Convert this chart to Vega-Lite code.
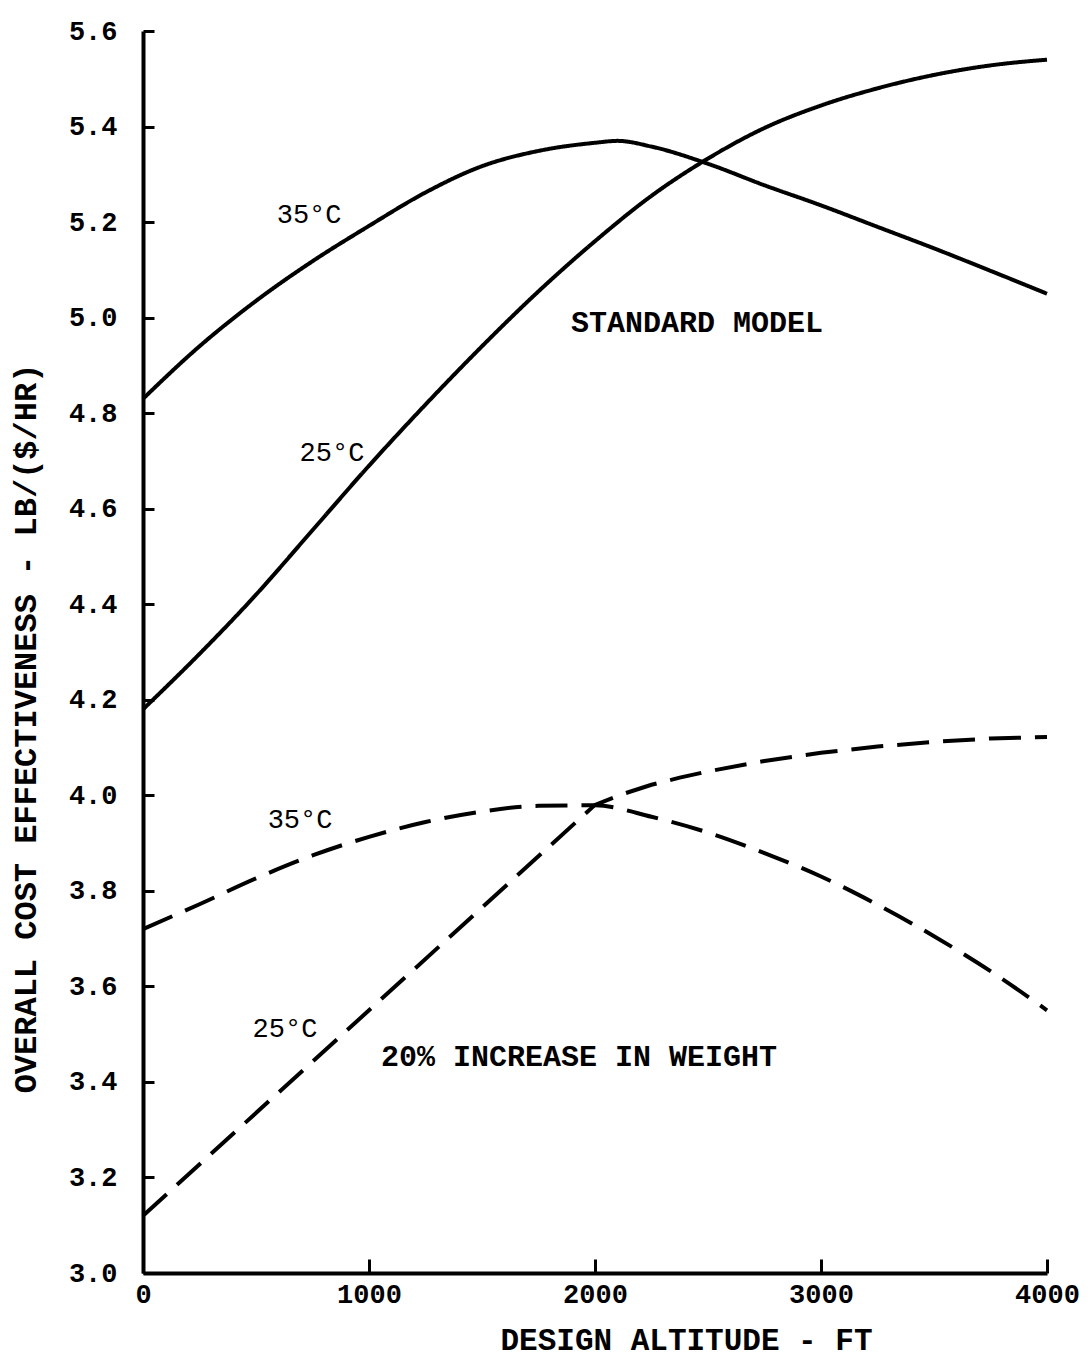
{
  "$schema": "https://vega.github.io/schema/vega-lite/v6.json",
  "autosize": {"type": "none"},
  "width": 904,
  "height": 1242,
  "padding": {"left": 143, "top": 31, "right": 45, "bottom": 85},
  "background": "white",
  "config": {"view": {"stroke": null}},
  "datasets": {
    "curves": [
      {"series": "std35", "model": "standard", "alt": 0, "val": 4.83},
      {"series": "std35", "model": "standard", "alt": 250, "val": 4.94},
      {"series": "std35", "model": "standard", "alt": 500, "val": 5.035},
      {"series": "std35", "model": "standard", "alt": 750, "val": 5.118},
      {"series": "std35", "model": "standard", "alt": 1000, "val": 5.192},
      {"series": "std35", "model": "standard", "alt": 1250, "val": 5.262},
      {"series": "std35", "model": "standard", "alt": 1500, "val": 5.317},
      {"series": "std35", "model": "standard", "alt": 1750, "val": 5.349},
      {"series": "std35", "model": "standard", "alt": 2000, "val": 5.366},
      {"series": "std35", "model": "standard", "alt": 2100, "val": 5.37},
      {"series": "std35", "model": "standard", "alt": 2250, "val": 5.358},
      {"series": "std35", "model": "standard", "alt": 2500, "val": 5.322},
      {"series": "std35", "model": "standard", "alt": 2750, "val": 5.277},
      {"series": "std35", "model": "standard", "alt": 3000, "val": 5.235},
      {"series": "std35", "model": "standard", "alt": 3250, "val": 5.19},
      {"series": "std35", "model": "standard", "alt": 3500, "val": 5.145},
      {"series": "std35", "model": "standard", "alt": 3750, "val": 5.098},
      {"series": "std35", "model": "standard", "alt": 4000, "val": 5.05},
      {"series": "std25", "model": "standard", "alt": 0, "val": 4.18},
      {"series": "std25", "model": "standard", "alt": 250, "val": 4.296},
      {"series": "std25", "model": "standard", "alt": 500, "val": 4.42},
      {"series": "std25", "model": "standard", "alt": 750, "val": 4.555},
      {"series": "std25", "model": "standard", "alt": 1000, "val": 4.69},
      {"series": "std25", "model": "standard", "alt": 1250, "val": 4.818},
      {"series": "std25", "model": "standard", "alt": 1500, "val": 4.94},
      {"series": "std25", "model": "standard", "alt": 1750, "val": 5.055},
      {"series": "std25", "model": "standard", "alt": 2000, "val": 5.16},
      {"series": "std25", "model": "standard", "alt": 2250, "val": 5.255},
      {"series": "std25", "model": "standard", "alt": 2500, "val": 5.333},
      {"series": "std25", "model": "standard", "alt": 2750, "val": 5.397},
      {"series": "std25", "model": "standard", "alt": 3000, "val": 5.444},
      {"series": "std25", "model": "standard", "alt": 3250, "val": 5.48},
      {"series": "std25", "model": "standard", "alt": 3500, "val": 5.508},
      {"series": "std25", "model": "standard", "alt": 3750, "val": 5.528},
      {"series": "std25", "model": "standard", "alt": 4000, "val": 5.54},
      {"series": "w35", "model": "weight", "alt": 0, "val": 3.72},
      {"series": "w35", "model": "weight", "alt": 250, "val": 3.772},
      {"series": "w35", "model": "weight", "alt": 500, "val": 3.826},
      {"series": "w35", "model": "weight", "alt": 750, "val": 3.874},
      {"series": "w35", "model": "weight", "alt": 1000, "val": 3.913},
      {"series": "w35", "model": "weight", "alt": 1250, "val": 3.944},
      {"series": "w35", "model": "weight", "alt": 1500, "val": 3.966},
      {"series": "w35", "model": "weight", "alt": 1750, "val": 3.978},
      {"series": "w35", "model": "weight", "alt": 2000, "val": 3.979},
      {"series": "w35", "model": "weight", "alt": 2250, "val": 3.955},
      {"series": "w35", "model": "weight", "alt": 2500, "val": 3.922},
      {"series": "w35", "model": "weight", "alt": 2750, "val": 3.879},
      {"series": "w35", "model": "weight", "alt": 3000, "val": 3.83},
      {"series": "w35", "model": "weight", "alt": 3250, "val": 3.771},
      {"series": "w35", "model": "weight", "alt": 3500, "val": 3.705},
      {"series": "w35", "model": "weight", "alt": 3750, "val": 3.632},
      {"series": "w35", "model": "weight", "alt": 4000, "val": 3.55},
      {"series": "w25", "model": "weight", "alt": 0, "val": 3.12},
      {"series": "w25", "model": "weight", "alt": 1000, "val": 3.55},
      {"series": "w25", "model": "weight", "alt": 2000, "val": 3.98},
      {"series": "w25", "model": "weight", "alt": 2125, "val": 4.003},
      {"series": "w25", "model": "weight", "alt": 2250, "val": 4.022},
      {"series": "w25", "model": "weight", "alt": 2375, "val": 4.037},
      {"series": "w25", "model": "weight", "alt": 2500, "val": 4.05},
      {"series": "w25", "model": "weight", "alt": 2750, "val": 4.072},
      {"series": "w25", "model": "weight", "alt": 3000, "val": 4.089},
      {"series": "w25", "model": "weight", "alt": 3250, "val": 4.102},
      {"series": "w25", "model": "weight", "alt": 3500, "val": 4.112},
      {"series": "w25", "model": "weight", "alt": 3750, "val": 4.119},
      {"series": "w25", "model": "weight", "alt": 4000, "val": 4.122}
    ],
    "labels": [
      {"text": "35°C", "alt": 735, "val": 5.215, "kind": "small"},
      {"text": "25°C", "alt": 836, "val": 4.717, "kind": "small"},
      {"text": "STANDARD MODEL", "alt": 2451, "val": 4.989, "kind": "big"},
      {"text": "35°C", "alt": 695, "val": 3.948, "kind": "small"},
      {"text": "25°C", "alt": 628, "val": 3.51, "kind": "small"},
      {"text": "20% INCREASE IN WEIGHT", "alt": 1929, "val": 3.452, "kind": "big"}
    ]
  },
  "encoding": {
    "x": {
      "field": "alt", "type": "quantitative",
      "scale": {"domain": [0, 4000], "nice": false, "zero": false},
      "axis": {
        "values": [0, 1000, 2000, 3000, 4000], "format": "d",
        "title": "DESIGN ALTITUDE - FT",
        "grid": false, "domainColor": "black", "domainWidth": 4,
        "tickColor": "black", "tickWidth": 3, "tickSize": -14,
        "labelFont": "Liberation Mono", "labelFontSize": 27, "labelFontWeight": "bold", "labelColor": "black",
        "labelPadding": 22, "labelFlush": false,
        "titleFont": "Liberation Mono", "titleFontSize": 31, "titleFontWeight": "bold", "titleColor": "black",
        "titleX": 543, "titleY": 67, "titleAlign": "center", "titleBaseline": "middle"
      }
    },
    "y": {
      "field": "val", "type": "quantitative",
      "scale": {"domain": [3.0, 5.6], "nice": false, "zero": false},
      "axis": {
        "values": [3.0, 3.2, 3.4, 3.6, 3.8, 4.0, 4.2, 4.4, 4.6, 4.8, 5.0, 5.2, 5.4, 5.6], "format": ".1f",
        "title": "OVERALL COST EFFECTIVENESS - LB/($/HR)",
        "grid": false, "domainColor": "black", "domainWidth": 4,
        "tickColor": "black", "tickWidth": 3, "tickSize": -11,
        "labelFont": "Liberation Mono", "labelFontSize": 27, "labelFontWeight": "bold", "labelColor": "black",
        "labelPadding": 37, "labelFlush": false,
        "titleFont": "Liberation Mono", "titleFontSize": 32, "titleFontWeight": "bold", "titleColor": "black",
        "titleX": -118, "titleY": 697, "titleAlign": "center", "titleBaseline": "middle", "titleAngle": -90
      }
    }
  },
  "layer": [
    {
      "data": {"name": "curves"},
      "transform": [{"filter": "datum.series !== 'w25'"}],
      "mark": {"type": "line", "interpolate": "monotone", "strokeWidth": 4, "color": "black", "clip": false},
      "encoding": {
        "detail": {"field": "series"},
        "strokeDash": {
          "field": "model", "type": "nominal",
          "scale": {"domain": ["standard", "weight"], "range": [[1, 0], [32, 14]]},
          "legend": null
        }
      }
    },
    {
      "data": {"name": "curves"},
      "transform": [{"filter": "datum.series === 'w25'"}],
      "mark": {"type": "line", "interpolate": "linear", "strokeWidth": 4, "color": "black", "clip": false, "strokeDash": [32, 14]},
      "encoding": {}
    },
    {
      "data": {"name": "labels"},
      "transform": [{"filter": "datum.kind === 'small'"}],
      "mark": {"type": "text", "font": "Liberation Mono", "fontSize": 27, "color": "black", "align": "center", "baseline": "middle"},
      "encoding": {"text": {"field": "text"}}
    },
    {
      "data": {"name": "labels"},
      "transform": [{"filter": "datum.kind === 'big'"}],
      "mark": {"type": "text", "font": "Liberation Mono", "fontSize": 30, "fontWeight": "bold", "color": "black", "align": "center", "baseline": "middle"},
      "encoding": {"text": {"field": "text"}}
    }
  ]
}
